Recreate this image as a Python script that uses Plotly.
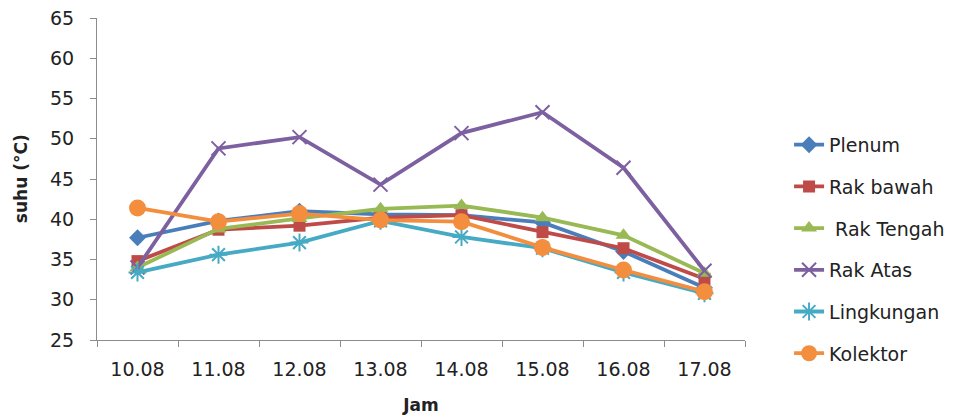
import plotly.graph_objects as go

jam = ["10.08", "11.08", "12.08", "13.08", "14.08", "15.08", "16.08", "17.08"]
plenum = [37.7, 39.8, 41.0, 40.6, 40.5, 39.6, 36.0, 31.5]
rak_bawah = [34.8, 38.7, 39.2, 40.2, 40.5, 38.4, 36.4, 32.6]
rak_tengah = [34.0, 38.8, 40.1, 41.3, 41.7, 40.2, 38.0, 33.3]
rak_atas = [34.0, 48.8, 50.2, 44.3, 50.7, 53.3, 46.4, 33.6]
lingkungan = [33.4, 35.6, 37.1, 39.8, 37.8, 36.4, 33.4, 30.8]
kolektor = [41.4, 39.7, 40.7, 39.9, 39.7, 36.5, 33.7, 31.0]

series = [
    ("Plenum", plenum, "#4A7EBB", "diamond", 13),
    ("Rak bawah", rak_bawah, "#BE4B48", "square", 12),
    (" Rak Tengah", rak_tengah, "#98B954", "triangle-up", 14),
    ("Rak Atas", rak_atas, "#7D60A0", "x-thin", 14),
    ("Lingkungan", lingkungan, "#46AAC5", "asterisk", 15),
    ("Kolektor", kolektor, "#F38E3E", "circle", 17),
]

fig = go.Figure()
for i, (name, vals, col, sym, sz) in enumerate(series):
    thin = sym in ("x-thin", "asterisk")
    fig.add_trace(go.Scatter(
        x=jam, y=vals, name=name, mode="lines+markers",
        legendgroup=str(i),
        line=dict(color=col, width=3.8),
        marker=dict(symbol=sym, size=sz, color=col,
                    line=dict(color=col, width=2 if thin else 0)),
    ))

base_font = dict(family="DejaVu Sans, sans-serif", size=19, color="#222")
fig.update_layout(
    width=963, height=409,
    margin=dict(l=89, r=226, t=10, b=77, autoexpand=False),
    paper_bgcolor="white", plot_bgcolor="white",
    font=base_font,
    showlegend=True,
    legend=dict(x=1.068, y=0.665, xanchor="left", yanchor="top",
                tracegroupgap=14, font=dict(size=19, color="#222"),
                bgcolor="rgba(0,0,0,0)"),
    xaxis=dict(type="category", showline=True, linecolor="#8c8c8c", linewidth=1,
               ticks="outside", tickson="boundaries", ticklen=6, tickcolor="#8c8c8c",
               showgrid=False, range=[-0.5, 7.5], ticklabelstandoff=12, automargin=False,
               title=dict(text="<b>Jam</b>", font=dict(size=17), standoff=20)),
    yaxis=dict(range=[25, 65], dtick=5, showline=True, linecolor="#8c8c8c", linewidth=1,
               ticks="outside", ticklen=6, tickcolor="#8c8c8c", showgrid=False,
               zeroline=False, ticklabelstandoff=12, ticklabeloverflow="allow",
               automargin=False),
    annotations=[dict(text="<b>suhu (°C)</b>", xref="paper", yref="paper",
                      x=-0.117, y=0.5, xanchor="center", yanchor="middle",
                      textangle=-90, showarrow=False, font=dict(size=17, color="#222"))],
)

fig.write_html("out.html")
